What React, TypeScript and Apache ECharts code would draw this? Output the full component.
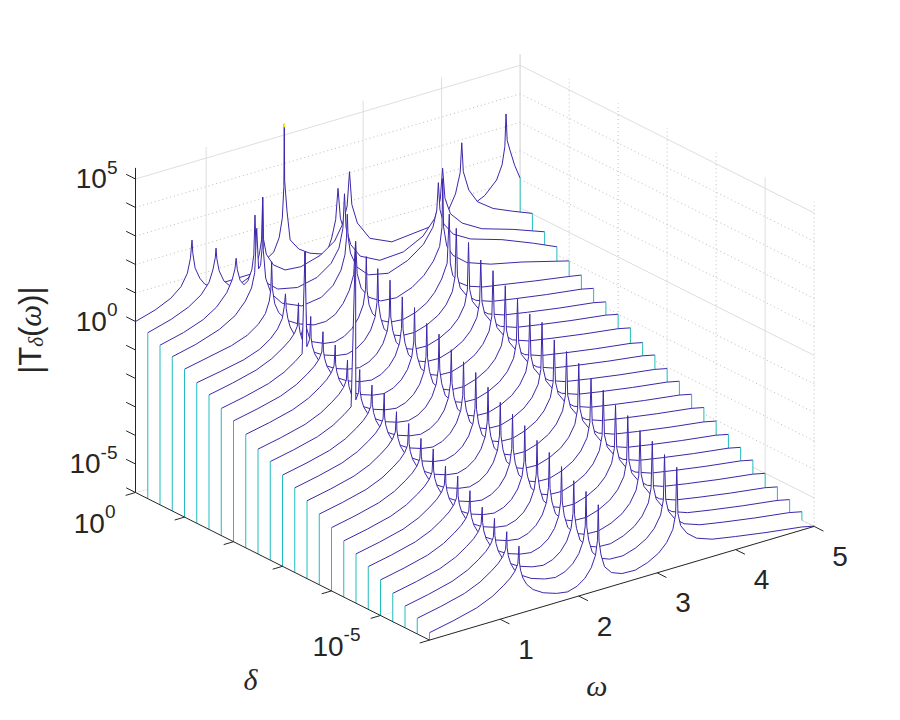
import React, { useEffect, useRef } from "react";
import * as echarts from "echarts";

// ---------- axes ----------
const OMEGA_MIN = 0.1;
const OMEGA_MAX = 5;
const DELTA_LOG_MAX = 0; // delta = 10^0 (back)
const DELTA_LOG_MIN = -6; // delta = 10^-6 (front)
const Z_LOG_MIN = -6;
const Z_LOG_MAX = 5.39;
const OMEGA_TICKS = [1, 2, 3, 4, 5];
const DELTA_TICKS = [0, -1, -2, -3, -4, -5, -6];
const DELTA_LABELS = [0, -5];
const Z_TICKS = [-6, -5, -4, -3, -2, -1, 0, 1, 2, 3, 4, 5];
const Z_LABELS = [-5, 0, 5];

// log10(delta) of every waterfall row, back to front
const DELTA_LOG10 = [
  0, -0.25, -0.5, -0.75, -1, -1.25, -1.5, -1.75, -2, -2.25, -2.5, -2.75, -3,
  -3.25, -3.5, -3.75, -4, -4.25, -4.5, -4.75, -5, -5.25, -5.5, -5.75, -6,
];

// ---------- back rows: [omega, log10|T|] ----------
const ROW_0 = [
  [0.1, 0], [0.35, 0.2], [0.55, 0.45], [0.68, 0.75], [0.76, 1.15], [0.8, 1.65], [0.82, 2.27], [0.83, 1.8],
  [0.86, 1.25], [0.92, 0.85], [0.98, 0.6], [1.05, 0.45], [1.6, 0.47], [1.75, 0.8], [1.86, 1.0], [1.93, 1.45],
  [1.97, 2.1], [1.99, 3.2], [1.995, 5.39], [2.0, 3.4], [2.03, 2.3], [2.07, 1.26], [2.18, 0.85], [2.32, 0.59],
  [2.53, 0.38], [2.6, 0.9], [2.65, 1.5], [2.68, 2.57], [2.71, 1.5], [2.77, 0.9], [2.88, 0.3], [3.04, -0.28],
  [3.96, 0.3], [4.36, 0.55], [4.55, 0.8], [4.7, 1.22], [4.77, 1.7], [4.805, 2.3], [4.82, 3.44], [4.835, 2.5],
  [4.87, 2.13], [4.93, 1.55], [5, 1.04],
];
const ROW_1 = [
  [0.1, -0.18], [0.4, 0.05], [0.62, 0.3], [0.78, 0.6], [0.88, 0.95], [0.93, 1.35], [0.96, 1.75], [0.97, 2.08],
  [0.98, 1.7], [1.01, 1.25], [1.07, 0.85], [1.15, 0.6], [1.25, 0.55], [1.38, 0.7], [1.47, 1.0], [1.52, 1.4],
  [1.55, 1.9], [1.564, 3.38], [1.575, 1.9], [1.61, 1.35], [1.7, 0.9], [1.85, 0.6], [2.05, 0.55], [2.3, 0.75],
  [2.48, 1.1], [2.58, 1.6], [2.64, 2.2], [2.67, 3.38], [2.7, 2.2], [2.77, 1.5], [2.93, 0.83], [3.21, 0.48],
  [3.8, 0.64], [3.93, 1.0], [4.02, 1.5], [4.08, 2.2], [4.1, 3.23], [4.12, 2.2], [4.19, 1.5], [4.3, 1.0],
  [4.5, 0.6], [4.75, 0.3], [5, 0.02],
];
const ROW_2 = [
  [0.1, -0.4], [0.4, -0.2], [0.65, 0.05], [0.82, 0.35], [0.95, 0.75], [1.02, 1.15], [1.055, 1.5], [1.07, 1.86],
  [1.085, 1.45], [1.12, 1.05], [1.17, 0.85], [1.22, 0.95], [1.27, 1.3], [1.295, 1.8], [1.31, 3.18], [1.325, 1.8],
  [1.36, 1.2], [1.45, 0.7], [1.6, 0.35], [1.85, 0.2], [2.1, 0.35], [2.28, 0.7], [2.38, 1.15], [2.43, 1.8],
  [2.45, 3.0], [2.47, 1.8], [2.53, 1.15], [2.65, 0.65], [2.9, 0.3], [3.2, 0.35], [3.45, 0.7], [3.6, 1.2],
  [3.67, 1.8], [3.7, 2.88], [3.73, 1.8], [3.8, 1.2], [3.95, 0.75], [4.2, 0.35], [4.6, 0.0], [5, -0.41],
];
const ROW_3 = [
  [0.1, -0.59], [0.4, -0.4], [0.7, -0.12], [0.9, 0.2], [1.03, 0.6], [1.11, 1.0], [1.15, 1.5], [1.176, 3.04],
  [1.2, 1.6], [1.225, 1.7], [1.245, 2.3], [1.252, 4.07], [1.26, 2.2], [1.29, 1.2], [1.36, 0.6], [1.5, 0.15],
  [1.75, -0.15], [2.0, -0.05], [2.15, 0.25], [2.25, 0.7], [2.3, 1.2], [2.32, 1.8], [2.33, 2.6], [2.34, 1.8],
  [2.37, 1.2], [2.45, 0.65], [2.6, 0.25], [2.85, 0.1], [3.1, 0.35], [3.3, 0.75], [3.42, 1.25], [3.47, 1.8],
  [3.49, 2.76], [3.51, 1.8], [3.56, 1.25], [3.68, 0.8], [3.9, 0.45], [4.3, 0.1], [4.7, -0.35], [5, -0.72],
];
const ROW_4 = [
  [0.1, -0.81], [0.4, -0.64], [0.7, -0.47], [0.9, -0.27], [1.04, 0.0], [1.13, 0.3], [1.18, 0.7], [1.2, 1.1],
  [1.21, 2.06], [1.22, 1.1], [1.25, 0.55], [1.3, 0.2], [1.4, -0.15], [1.55, -0.4], [1.75, -0.6], [1.9, -0.6],
  [2.02, -0.45], [2.12, -0.15], [2.2, 0.25], [2.255, 0.75], [2.28, 1.9], [2.3, 0.75], [2.35, 0.2], [2.45, -0.2],
  [2.6, -0.45], [2.8, -0.5], [3.0, -0.3], [3.15, 0.0], [3.27, 0.4], [3.35, 0.85], [3.38, 1.5], [3.39, 3.2],
  [3.4, 1.5], [3.44, 0.8], [3.52, 0.4], [3.7, 0.0], [4.0, -0.3], [4.4, -0.55], [4.84, -0.88], [5, -1.0],
];
const ROW_5 = [
  [0.1, -1.07], [0.4, -0.92], [0.7, -0.75], [0.9, -0.55], [1.04, -0.29], [1.13, -0.02], [1.19, 0.3], [1.215, 0.7],
  [1.23, 1.13], [1.24, 0.6], [1.26, 0.25], [1.29, -0.08], [1.34, -0.37], [1.42, -0.58], [1.46, -0.2], [1.475, 0.4],
  [1.48, 2.4], [1.485, 0.4], [1.5, -0.3], [1.55, -0.8], [1.72, -1.01], [1.86, -1.07], [1.98, -0.97], [2.08, -0.77],
  [2.16, -0.47], [2.22, -0.07], [2.25, 0.45], [2.26, 1.6], [2.27, 0.4], [2.295, -0.12], [2.34, -0.47], [2.43, -0.77],
  [2.56, -0.95], [2.73, -0.99], [2.89, -0.87], [3.03, -0.65], [3.13, -0.37], [3.22, 0.03], [3.29, 0.53], [3.317, 2.23],
  [3.33, 0.5], [3.36, 0.05], [3.44, -0.27], [3.56, -0.5], [3.75, -0.68], [4.0, -0.8], [4.4, -1.0], [4.84, -1.2],
  [5, -1.28],
];

// ---------- rows 6..24: same shape, each row lower ----------
// shape of a row relative to its value at omega = 0.1 (peaks listed separately)
const MID_SHAPE = [
  [0.1, 0], [0.4, 0.17], [0.7, 0.38], [0.9, 0.62], [1.04, 0.88], [1.13, 1.08], [1.19, 1.28], [1.225, 1.5],
  [1.245, 1.55], [1.26, 1.25], [1.29, 0.95], [1.34, 0.68], [1.42, 0.44], [1.55, 0.22], [1.72, 0.06], [1.86, 0.0],
  [1.98, 0.1], [2.08, 0.3], [2.16, 0.6], [2.215, 1.0], [2.24, 1.5], [2.26, 1.45], [2.285, 0.95], [2.33, 0.5],
  [2.42, 0.22], [2.55, 0.08], [2.72, 0.06], [2.88, 0.2], [3.02, 0.42], [3.12, 0.7], [3.2, 1.1], [3.235, 1.6],
  [3.265, 1.6], [3.3, 1.15], [3.38, 0.82], [3.5, 0.55], [3.7, 0.35], [4.0, 0.2], [4.4, 0.02], [4.84, -0.15],
  [5.0, -0.25],
];
const MID_PEAK_OMEGA = [1.24, 2.25, 3.25];
// log10|T| at omega = 0.1 for rows 6..24
const MID_LEVEL = [
  -1.28, -1.54, -1.76, -2.02, -2.32, -2.54, -2.8, -3.03, -3.27, -3.52, -3.78, -4.03, -4.27, -4.5, -4.75, -5.01,
  -5.24, -5.45, -5.74,
];
// peak heights above that level
const MID_PEAK_A = [2.3, 2.3, 2.2, 2.21, 2.2, 2.3, 2.23, 2.39, 2.2, 2.25, 2.2, 2.3, 2.15, 2.25, 2.2, 2.1, 2.15, 2.11, 2.11];
const MID_PEAK_B = [2.68, 2.75, 2.6, 2.7, 2.66, 2.72, 2.65, 2.67, 2.75, 2.7, 2.65, 2.7, 2.75, 2.68, 2.72, 2.7, 2.65, 2.7, 2.74];
const MID_PEAK_C = [3.28, 3.26, 3.08, 3.18, 3.17, 3.14, 3.09, 3.24, 3.08, 3.14, 3.2, 3.12, 3.18, 3.1, 3.2, 3.15, 3.22, 3.18, 3.24];
// single very tall samples: [row, omega, height above level]
const MID_EXTRA_PEAKS = [
  [7, 1.167, 4.63],
  [11, 1.187, 6.83],
];

const MID_ROWS = MID_LEVEL.map((level, i) => {
  const pts = MID_SHAPE.map(([w, r]) => [w, level + r]);
  pts.push([MID_PEAK_OMEGA[0], level + MID_PEAK_A[i]]);
  pts.push([MID_PEAK_OMEGA[1], level + MID_PEAK_B[i]]);
  pts.push([MID_PEAK_OMEGA[2], level + MID_PEAK_C[i]]);
  MID_EXTRA_PEAKS.forEach(([row, w, r]) => {
    if (row === i + 6) pts.push([w, level + r]);
  });
  return pts.sort((a, b) => a[0] - b[0]);
});
const ROWS = [ROW_0, ROW_1, ROW_2, ROW_3, ROW_4, ROW_5, ...MID_ROWS];

// ---------- style ----------
const BLUE = "#3E26A8";
const CYAN = "#1fbcc0";
const TIP = "#f2ee1e";
const AXIS = "#262626";
const GRID_MAJOR = "#dedede";
const GRID_MINOR = "#bcbcbc";
const FONT = "'Liberation Sans', Arial, Helvetica, sans-serif";
const GREEK = "'Liberation Serif', 'DejaVu Serif', serif";

// oblique 3-D view (layout of the box, measured in screen pixels)
const ORIGIN = [135.5, 492.5]; // omega = 0.1, delta = 1, |T| = 1e-6
const U = [78.5, -23.2]; // one unit of omega
const V = [49.0, 24.6]; // one decade of delta, towards the front
const W = -28.5; // one decade of |T|

function proj(w: number, ld: number, lz: number): number[] {
  const d = DELTA_LOG_MAX - ld;
  return [
    ORIGIN[0] + U[0] * (w - OMEGA_MIN) + V[0] * d,
    ORIGIN[1] + U[1] * (w - OMEGA_MIN) + V[1] * d + W * (lz - Z_LOG_MIN),
  ];
}

function seg(api: any, a: number[], b: number[], style: any) {
  const p = api.coord(a);
  const q = api.coord(b);
  return { type: "line", shape: { x1: p[0], y1: p[1], x2: q[0], y2: q[1] }, style };
}

const majorStyle = { stroke: GRID_MAJOR, lineWidth: 1 };
const minorStyle = { stroke: GRID_MINOR, lineWidth: 1, lineDash: [1, 3] };

function renderWalls(_params: any, api: any) {
  const c: any[] = [];
  // floor
  DELTA_TICKS.forEach((ld) =>
    c.push(seg(api, proj(OMEGA_MIN, ld, Z_LOG_MIN), proj(OMEGA_MAX, ld, Z_LOG_MIN), DELTA_LABELS.includes(ld) ? majorStyle : minorStyle))
  );
  OMEGA_TICKS.forEach((w) =>
    c.push(seg(api, proj(w, DELTA_LOG_MAX, Z_LOG_MIN), proj(w, DELTA_LOG_MIN, Z_LOG_MIN), majorStyle))
  );
  // back wall (delta = 1)
  Z_TICKS.forEach((L) =>
    c.push(seg(api, proj(OMEGA_MIN, DELTA_LOG_MAX, L), proj(OMEGA_MAX, DELTA_LOG_MAX, L), Z_LABELS.includes(L) ? majorStyle : minorStyle))
  );
  OMEGA_TICKS.forEach((w) =>
    c.push(seg(api, proj(w, DELTA_LOG_MAX, Z_LOG_MIN), proj(w, DELTA_LOG_MAX, Z_LOG_MAX), majorStyle))
  );
  // side wall (omega = 5)
  Z_TICKS.forEach((L) =>
    c.push(seg(api, proj(OMEGA_MAX, DELTA_LOG_MAX, L), proj(OMEGA_MAX, DELTA_LOG_MIN, L), Z_LABELS.includes(L) ? majorStyle : minorStyle))
  );
  DELTA_TICKS.forEach((ld) =>
    c.push(seg(api, proj(OMEGA_MAX, ld, Z_LOG_MIN), proj(OMEGA_MAX, ld, Z_LOG_MAX), DELTA_LABELS.includes(ld) ? majorStyle : minorStyle))
  );
  return { type: "group", children: c };
}

function renderRow(params: any, api: any) {
  const k = params.dataIndex;
  const ld = DELTA_LOG10[k];
  const pts = ROWS[k];
  const curve = pts.map(([w, L]) => api.coord(proj(w, ld, L)));
  const bl = api.coord(proj(OMEGA_MIN, ld, Z_LOG_MIN));
  const br = api.coord(proj(OMEGA_MAX, ld, Z_LOG_MIN));
  const children: any[] = [
    { type: "polygon", shape: { points: [...curve, br, bl] }, style: { fill: "#ffffff", stroke: null } },
    { type: "polyline", shape: { points: curve }, style: { stroke: BLUE, lineWidth: 1, fill: null } },
    { type: "line", shape: { x1: curve[0][0], y1: curve[0][1], x2: bl[0], y2: bl[1] }, style: { stroke: CYAN, lineWidth: 1 } },
    {
      type: "line",
      shape: { x1: curve[curve.length - 1][0], y1: curve[curve.length - 1][1], x2: br[0], y2: br[1] },
      style: { stroke: CYAN, lineWidth: 1 },
    },
  ];
  // colour of the highest value (top of the colour map)
  pts.forEach(([w, L], i) => {
    if (L >= Z_LOG_MAX - 0.005) {
      const top = api.coord(proj(w, ld, L));
      [i - 1, i + 1].forEach((j) => {
        if (j < 0 || j >= pts.length) return;
        const [w2, L2] = pts[j];
        const f = 0.12 / (L - L2);
        const q = api.coord(proj(w + (w2 - w) * f, ld, L + (L2 - L) * f));
        children.push({ type: "line", shape: { x1: top[0], y1: top[1], x2: q[0], y2: q[1] }, style: { stroke: TIP, lineWidth: 1.2 } });
      });
    }
  });
  return { type: "group", children };
}

const powRich = {
  b: { fontSize: 28, fontFamily: FONT, fill: AXIS, verticalAlign: "bottom", padding: [7, 0, 0, 0] },
  s: { fontSize: 19, fontFamily: FONT, fill: AXIS, verticalAlign: "top" },
};
const pow = (e: number) => `{b|10}{s|${e}}`;

function renderAxes(_params: any, api: any) {
  const c: any[] = [];
  const ax = { stroke: AXIS, lineWidth: 1 };
  // axis lines
  c.push(seg(api, proj(OMEGA_MIN, DELTA_LOG_MAX, Z_LOG_MIN), proj(OMEGA_MIN, DELTA_LOG_MAX, Z_LOG_MAX), ax));
  c.push(seg(api, proj(OMEGA_MIN, DELTA_LOG_MAX, Z_LOG_MIN), proj(OMEGA_MIN, DELTA_LOG_MIN, Z_LOG_MIN), ax));
  c.push(seg(api, proj(OMEGA_MIN, DELTA_LOG_MIN, Z_LOG_MIN), proj(OMEGA_MAX, DELTA_LOG_MIN, Z_LOG_MIN), ax));
  // ticks
  Z_TICKS.forEach((L) => c.push(seg(api, proj(OMEGA_MIN, DELTA_LOG_MAX, L), proj(OMEGA_MIN, DELTA_LOG_MAX + 0.19, L), ax)));
  DELTA_TICKS.forEach((ld) => c.push(seg(api, proj(OMEGA_MIN, ld, Z_LOG_MIN), proj(OMEGA_MIN - 0.125, ld, Z_LOG_MIN), ax)));
  OMEGA_TICKS.forEach((w) => c.push(seg(api, proj(w, DELTA_LOG_MIN, Z_LOG_MIN), proj(w, DELTA_LOG_MIN - 0.19, Z_LOG_MIN), ax)));
  // tick labels
  Z_LABELS.forEach((L) => {
    const p = api.coord(proj(OMEGA_MIN, DELTA_LOG_MAX, L));
    c.push({ type: "text", x: p[0] - 18, y: p[1] - 4, style: { text: pow(L), rich: powRich, align: "right", verticalAlign: "middle" } });
  });
  DELTA_LABELS.forEach((ld) => {
    const p = api.coord(proj(OMEGA_MIN, ld, Z_LOG_MIN));
    c.push({ type: "text", x: p[0] - 20, y: p[1] + 27, style: { text: pow(ld), rich: powRich, align: "right", verticalAlign: "middle" } });
  });
  OMEGA_TICKS.forEach((w) => {
    const p = api.coord(proj(w, DELTA_LOG_MIN, Z_LOG_MIN));
    c.push({
      type: "text",
      x: p[0] + 26,
      y: p[1] + 30,
      style: { text: String(w), fontSize: 28, fontFamily: FONT, fill: AXIS, align: "center", verticalAlign: "middle" },
    });
  });
  // axis titles
  const pw = api.coord(proj((OMEGA_MIN + OMEGA_MAX) / 2, DELTA_LOG_MIN, Z_LOG_MIN));
  c.push({
    type: "text",
    x: pw[0] - 25,
    y: pw[1] + 102,
    style: { text: "ω", fontSize: 30, fontFamily: GREEK, fontStyle: "italic", fill: AXIS, align: "center", verticalAlign: "middle" },
  });
  const pd = api.coord(proj(OMEGA_MIN, (DELTA_LOG_MAX + DELTA_LOG_MIN) / 2, Z_LOG_MIN));
  c.push({
    type: "text",
    x: pd[0] - 32,
    y: pd[1] + 113,
    style: { text: "δ", fontSize: 30, fontFamily: GREEK, fontStyle: "italic", fill: AXIS, align: "center", verticalAlign: "middle" },
  });
  const pz = api.coord(proj(OMEGA_MIN, DELTA_LOG_MAX, (Z_LOG_MIN + Z_LOG_MAX) / 2));
  c.push({
    type: "text",
    x: pz[0] - 105,
    y: pz[1] + 0,
    rotation: Math.PI / 2,
    style: {
      text: "{t||T}{d|δ}{t|(}{w|ω}{t|)|}",
      align: "center",
      verticalAlign: "middle",
      rich: {
        t: { fontSize: 31, fontFamily: FONT, fill: AXIS },
        d: { fontSize: 21, fontFamily: GREEK, fontStyle: "italic", fill: AXIS, verticalAlign: "bottom", padding: [11, 0, 0, 0] },
        w: { fontSize: 31, fontFamily: GREEK, fontStyle: "italic", fill: AXIS },
      },
    },
  });
  return { type: "group", children: c };
}

export default function App() {
  const ref = useRef<HTMLDivElement>(null);
  useEffect(() => {
    const chart = echarts.init(ref.current!, undefined, { renderer: "svg" });
    chart.setOption({
      animation: false,
      backgroundColor: "#ffffff",
      grid: { left: 0, right: 0, top: 0, bottom: 0 },
      xAxis: { type: "value", min: 0, max: 900, show: false },
      yAxis: { type: "value", min: 0, max: 720, inverse: true, show: false },
      series: [
        { type: "custom", name: "grid", z: 1, silent: true, data: [[0, 0]], renderItem: renderWalls },
        { type: "custom", name: "rows", z: 2, silent: true, data: ROWS.map((_, i) => [i, 0]), renderItem: renderRow },
        { type: "custom", name: "axes", z: 3, silent: true, data: [[0, 0]], renderItem: renderAxes },
      ],
    });
    return () => chart.dispose();
  }, []);
  return <div ref={ref} style={{ position: "fixed", left: 0, top: 0, width: 900, height: 720, background: "#fff" }} />;
}
